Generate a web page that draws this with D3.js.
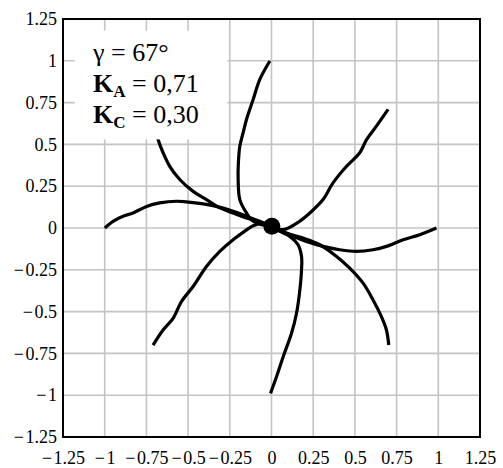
<!DOCTYPE html>
<html>
<head>
<meta charset="utf-8">
<script src="https://cdn.jsdelivr.net/npm/d3@7"></script>
<style>
  html, body { margin: 0; padding: 0; background: #fff; }
  svg { display: block; }
  svg text { font-family: "Times New Roman", Times, "Liberation Serif", Tinos, "DejaVu Serif", serif; fill: #000; }
</style>
</head>
<body>
<script>
// Tick values shared by both axes
const ticks = [-1.25, -1, -0.75, -0.5, -0.25, 0, 0.25, 0.5, 0.75, 1, 1.25];

// Eight trajectories leaving the central point, as [x, y] pairs
const curveUp = [[-0.058,0.020],[-0.110,0.040],[-0.150,0.090],[-0.190,0.170],[-0.200,0.290],[-0.199,0.380],[-0.190,0.489],[-0.170,0.570],[-0.150,0.649],[-0.110,0.769],[-0.070,0.889],[-0.010,0.999]];
const curveUpRight = [[0.070,-0.010],[0.159,0.034],[0.230,0.090],[0.309,0.170],[0.369,0.270],[0.450,0.369],[0.529,0.450],[0.570,0.529],[0.629,0.609],[0.699,0.709]];
const curveRight = [[0.038,-0.010],[0.110,-0.040],[0.210,-0.080],[0.309,-0.110],[0.409,-0.130],[0.510,-0.140],[0.609,-0.130],[0.689,-0.110],[0.789,-0.070],[0.889,-0.040],[0.989,0.000]];
const curveDownRight = [[0.090,-0.030],[0.189,-0.060],[0.290,-0.100],[0.390,-0.170],[0.469,-0.240],[0.549,-0.330],[0.609,-0.430],[0.659,-0.530],[0.689,-0.610],[0.703,-0.700]];
const curveDown = [[0.050,-0.020],[0.110,-0.050],[0.159,-0.100],[0.180,-0.170],[0.180,-0.250],[0.170,-0.370],[0.150,-0.510],[0.120,-0.630],[0.070,-0.770],[0.030,-0.890],[-0.006,-0.989]];
const curveDownLeft = [[-0.058,0.026],[-0.110,0.014],[-0.160,-0.019],[-0.230,-0.070],[-0.310,-0.140],[-0.390,-0.230],[-0.470,-0.350],[-0.540,-0.440],[-0.590,-0.540],[-0.650,-0.610],[-0.710,-0.700]];
const curveLeft = [[-0.070,0.040],[-0.150,0.070],[-0.230,0.100],[-0.330,0.129],[-0.410,0.144],[-0.510,0.156],[-0.570,0.160],[-0.670,0.150],[-0.749,0.129],[-0.830,0.090],[-0.890,0.070],[-0.950,0.040],[-0.999,0.000]];
const curveUpLeft = [[-0.058,0.032],[-0.150,0.060],[-0.230,0.090],[-0.310,0.120],[-0.390,0.170],[-0.470,0.219],[-0.550,0.290],[-0.610,0.369],[-0.650,0.450],[-0.680,0.529],[-0.700,0.610],[-0.710,0.700]];
const curves = [curveUp, curveUpRight, curveRight, curveDownRight, curveDown, curveDownLeft, curveLeft, curveUpLeft];

// Common centre of the trajectories
const centre = [0.002, 0.010];

// Parameter lines
const gammaDeg = 67;
const kA = "0,71";
const kC = "0,30";

const W = 503, H = 468;
const margin = { left: 63, top: 19, right: 23, bottom: 31 };
const serif = '"Times New Roman", Times, "Liberation Serif", Tinos, "DejaVu Serif", serif';

const svg = d3.select("body").append("svg").attr("width", W).attr("height", H);

const x = d3.scaleLinear().domain([-1.25, 1.25]).range([margin.left, W - margin.right]);
const y = d3.scaleLinear().domain([-1.25, 1.25]).range([H - margin.bottom, margin.top]);

const fmt = v => (v < 0 ? "\u2212\u200A" + String(-v) : String(v));

// Grid
const grid = svg.append("g").attr("stroke", "#c4c4c4").attr("stroke-width", 1.6);
grid.selectAll(".gx").data(ticks.slice(1, -1)).join("line")
  .attr("x1", d => x(d)).attr("x2", d => x(d))
  .attr("y1", y(-1.25)).attr("y2", y(1.25));
grid.selectAll(".gy").data(ticks.slice(1, -1)).join("line")
  .attr("y1", d => y(d)).attr("y2", d => y(d))
  .attr("x1", x(-1.25)).attr("x2", x(1.25));

// Trajectories
const line = d3.line().x(d => x(d[0])).y(d => y(d[1])).curve(d3.curveCatmullRom.alpha(0.5));
svg.append("g").selectAll("path").data(curves).join("path")
  .attr("d", d => line([centre, ...d]))
  .attr("fill", "none").attr("stroke", "#000").attr("stroke-width", 3.2)
  .attr("stroke-linecap", "butt").attr("stroke-linejoin", "round");

svg.append("circle")
  .attr("cx", x(centre[0])).attr("cy", y(centre[1])).attr("r", 8.5).attr("fill", "#000");

// Parameter box (white, covers grid and curve)
svg.append("rect")
  .attr("x", x(-1.18)).attr("y", y(1.18))
  .attr("width", x(-0.265) - x(-1.18)).attr("height", y(0.53) - y(1.18))
  .attr("fill", "#fff");

const tx = 93;
const legend = svg.append("g").attr("font-family", serif).attr("font-size", 26);
const t1 = legend.append("text").attr("x", tx).attr("y", 61);
t1.append("tspan").text("\u03B3 = " + gammaDeg + "\u00B0");

const t2 = legend.append("text").attr("x", tx).attr("y", 92);
t2.append("tspan").attr("font-weight", "bold").text("K");
t2.append("tspan").attr("font-weight", "bold").attr("font-size", 17).attr("dy", 5).text("A");
t2.append("tspan").attr("dy", -5).text(" = " + kA);

const t3 = legend.append("text").attr("x", tx).attr("y", 123);
t3.append("tspan").attr("font-weight", "bold").text("K");
t3.append("tspan").attr("font-weight", "bold").attr("font-size", 17).attr("dy", 5).text("C");
t3.append("tspan").attr("dy", -5).text(" = " + kC);

// Frame
svg.append("rect")
  .attr("x", x(-1.25)).attr("y", y(1.25))
  .attr("width", x(1.25) - x(-1.25)).attr("height", y(-1.25) - y(1.25))
  .attr("fill", "none").attr("stroke", "#000").attr("stroke-width", 2);

// Tick labels
const xAxis = d3.axisBottom(x).tickValues(ticks).tickFormat(fmt).tickSize(0).tickPadding(14);
const gx = svg.append("g").attr("transform", `translate(0,${y(-1.25)})`).call(xAxis);
gx.attr("font-family", serif).attr("font-size", 18);
gx.select(".domain").remove();

const yAxis = d3.axisLeft(y).tickValues(ticks).tickFormat(fmt).tickSize(0).tickPadding(6);
const gy = svg.append("g").attr("transform", `translate(${x(-1.25)},0)`).call(yAxis);
gy.attr("font-family", serif).attr("font-size", 18);
gy.select(".domain").remove();
</script>
</body>
</html>
